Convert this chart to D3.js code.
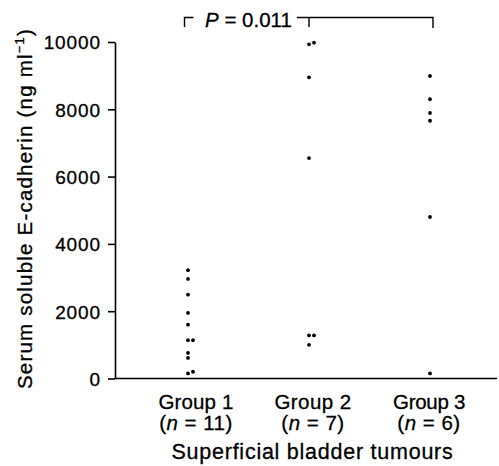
<!DOCTYPE html>
<html>
<head>
<meta charset="utf-8">
<script src="https://cdn.jsdelivr.net/npm/d3@7"></script>
<style>
  body { margin: 0; background: #fff; }
  svg { display: block; font-family: "Liberation Sans", Arial, Helvetica, sans-serif; }
  svg text { fill: #000; stroke: #000; stroke-width: 0.3px; }
</style>
</head>
<body>
<svg></svg>
<script>
const width = 499;
const height = 466;

const groups = ["Group 1", "Group 2", "Group 3"];
const group1 = [3220, 2960, 2490, 1950, 1600, 1140, 1140, 760, 610, 200, 150];
const group2 = [9980, 9930, 8950, 6550, 1280, 1280, 1000];
const group3 = [8990, 8300, 7890, 7660, 4800, 150];
const yTicks = [0, 2000, 4000, 6000, 8000, 10000];
const pLabel = "0.011";

const svg = d3.select("svg").attr("width", width).attr("height", height);

const x = d3.scalePoint().domain(groups).range([188, 430]);
const y = d3.scaleLinear().domain([0, 10000]).range([378.5, 42]);

// stretch text to the width it has in the scan
function fit(sel, target) {
  const node = sel.node();
  const len = node.getComputedTextLength();
  const n = node.textContent.length;
  sel.attr("letter-spacing", (target - len) / n);
}

// y axis
const yAxis = svg
  .append("g")
  .attr("transform", "translate(115,0)")
  .call(d3.axisLeft(y).tickValues(yTicks).tickSize(7).tickSizeOuter(0).tickPadding(7).tickFormat(d3.format("d")));
yAxis.select(".domain").attr("stroke", "#000").attr("stroke-width", 1.6);
yAxis.selectAll(".tick line").attr("stroke", "#000").attr("stroke-width", 1.6);
yAxis
  .selectAll(".tick text")
  .attr("font-size", 19)
  .attr("font-family", "Liberation Sans, Arial, sans-serif")
  .attr("letter-spacing", 0.9)
  .attr("dy", "0.36em");

// x axis line
svg
  .append("line")
  .attr("x1", 115)
  .attr("x2", 497)
  .attr("y1", y(0))
  .attr("y2", y(0))
  .attr("stroke", "#000")
  .attr("stroke-width", 1.6);

// dots: shift a dot right when it sits on top of a lower one
const dots = [];
[group1, group2, group3].forEach((vals, i) => {
  const placed = [];
  vals
    .slice()
    .sort((a, b) => a - b)
    .forEach((v) => {
      const hit = placed.some((p) => Math.abs(p - v) < 100);
      dots.push({ g: groups[i], v: v, shift: hit ? 5 : 0 });
      placed.push(v);
    });
});

svg
  .append("g")
  .selectAll("circle")
  .data(dots)
  .enter()
  .append("circle")
  .attr("cx", (d) => x(d.g) + d.shift)
  .attr("cy", (d) => y(d.v))
  .attr("r", 1.9)
  .attr("fill", "#000");

// group labels
const counts = [group1.length, group2.length, group3.length];
const nudge = [8, 4, -1];
groups.forEach((g, i) => {
  const a = svg
    .append("text")
    .attr("x", x(g) + nudge[i])
    .attr("y", 408.5)
    .attr("text-anchor", "middle")
    .attr("font-size", 20.5)
    .text(g);
  fit(a, [75, 77, 72][i]);
  const t = svg
    .append("text")
    .attr("x", x(g) + nudge[i])
    .attr("y", 429.5)
    .attr("text-anchor", "middle")
    .attr("font-size", 20.5)
    .attr("letter-spacing", 0.5);
  t.append("tspan").text("(");
  t.append("tspan").attr("font-style", "italic").text("n");
  t.append("tspan").text(" = " + counts[i] + ")");
});

// x title
const xTitle = svg
  .append("text")
  .attr("x", 312.5)
  .attr("y", 459)
  .attr("text-anchor", "middle")
  .attr("font-size", 21.5)
  .text("Superficial bladder tumours");
fit(xTitle, 282);

// y title
const yTitle = svg
  .append("text")
  .attr("transform", "translate(31.5,208.5) rotate(-90)")
  .attr("text-anchor", "middle")
  .attr("font-size", 20.5);
yTitle.append("tspan").text("Serum soluble E-cadherin (ng ml");
yTitle.append("tspan").attr("font-size", 13).attr("dy", -8).text("\u22121");
yTitle.append("tspan").attr("dy", 8).text(")");
fit(yTitle, 361);

// significance bracket
const left = x(groups[0]) - 3.5;
const right = x(groups[2]) + 3;
const barY = 17.5;
const pText = svg
  .append("text")
  .attr("x", left + 20.5)
  .attr("y", 26.5)
  .attr("font-size", 20.5);
pText.append("tspan").attr("font-style", "italic").text("P");
pText.append("tspan").text(" = " + pLabel);
const pEnd = left + 20.5 + pText.node().getComputedTextLength();

const bracket = svg.append("g").attr("fill", "none").attr("stroke", "#000").attr("stroke-width", 1.4);
bracket.append("path").attr("d", `M${left},27V${barY}H${left + 9}`);
bracket.append("path").attr("d", `M${pEnd + 5},${barY}H${right}V28`);
bracket.append("path").attr("d", `M${x(groups[1])},${barY}V27`);
</script>
</body>
</html>
